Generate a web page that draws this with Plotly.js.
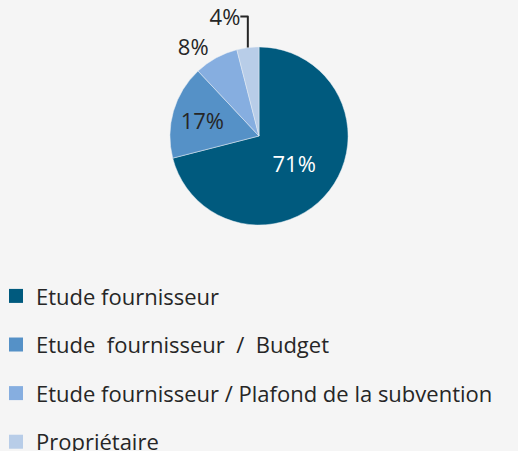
<!DOCTYPE html>
<html>
<head>
<meta charset="utf-8">
<script src="https://cdn.plot.ly/plotly-3.0.1.min.js"></script>
<style>html,body{margin:0;padding:0;background:#f5f5f5;}#chart{width:518px;height:451px;}</style>
</head>
<body>
<div id="chart"></div>
<script>
const categories = ["Etude fournisseur", "Etude\u00a0 fournisseur\u00a0 /\u00a0 Budget", "Etude fournisseur / Plafond de la subvention", "Propriétaire"];
const values = [71, 17, 8, 4];
const colors = ["#005a7e", "#5591c7", "#86aee0", "#b8cde8"];

const FONT = "'Open Sans', Lato, sans-serif";

const traces = [{
  type: "pie",
  values: values,
  labels: categories,
  sort: false,
  direction: "clockwise",
  rotation: 0,
  showlegend: false,
  domain: {x: [0.328, 0.672], y: [0.501, 0.896]},
  marker: {colors: colors, line: {color: "#e8eef5", width: 0.5}},
  texttemplate: "%{percent:.0%}",
  textposition: ["inside", "inside", "outside", "outside"],
  insidetextorientation: "horizontal",
  insidetextfont: {color: ["#ffffff", "#262626", "#262626", "#262626"], size: 22, family: FONT},
  outsidetextfont: {color: "#262626", size: 22, family: FONT},
  hoverinfo: "none"
}];

categories.forEach((c, i) => {
  traces.push({
    type: "scatter", mode: "markers", x: [null], y: [null],
    name: c, legendgroup: "g" + i,
    marker: {symbol: "square", size: 14, color: colors[i]},
    xaxis: "x", yaxis: "y", hoverinfo: "none"
  });
});

const layout = {
  width: 518, height: 451,
  margin: {l: 0, r: 0, t: 0, b: 0, autoexpand: false},
  paper_bgcolor: "#f5f5f5", plot_bgcolor: "#f5f5f5",
  xaxis: {visible: false}, yaxis: {visible: false},
  showlegend: true,
  legend: {
    xref: "paper", yref: "paper",
    x: 0.0077, y: 0.39, xanchor: "left", yanchor: "top",
    indentation: -8,
    orientation: "v", tracegroupgap: 17,
    font: {family: FONT, size: 22, color: "#262626"},
    bgcolor: "rgba(0,0,0,0)", itemclick: false
  },
  font: {family: FONT}
};

Plotly.newPlot("chart", traces, layout, {staticPlot: true});
</script>
</body>
</html>
